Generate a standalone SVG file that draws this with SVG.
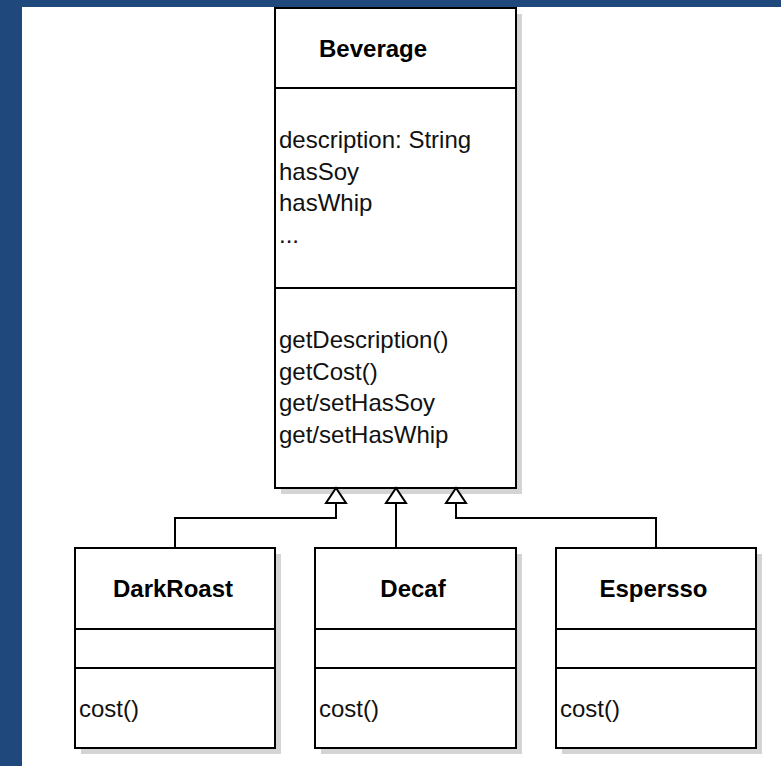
<svg xmlns="http://www.w3.org/2000/svg" width="781" height="766" viewBox="0 0 781 766">
<style>
.box{fill:#fff;stroke:#000;stroke-width:2}
.sh{fill:#d4d4d4}
.div{stroke:#000;stroke-width:2;fill:none}
.t{font-family:"Liberation Sans",Arial,sans-serif;font-size:24px;fill:#111}
.b{font-family:"Liberation Sans",Arial,sans-serif;font-size:24px;font-weight:bold;fill:#000}
.edge{fill:none;stroke:#000;stroke-width:2}
.tri{fill:#fff;stroke:#000;stroke-width:2;stroke-linejoin:miter}
</style>
<rect x="0" y="0" width="781" height="766" fill="#fff"/>
<rect x="0" y="0" width="781" height="7" fill="#1F497D"/>
<rect x="0" y="0" width="22" height="766" fill="#1F497D"/>

<g id="Beverage">
<rect class="sh" x="281" y="14" width="241" height="480"/>
<rect class="box" x="275" y="8" width="241" height="480"/>
<line class="div" x1="275" y1="88" x2="516" y2="88"/>
<line class="div" x1="275" y1="288" x2="516" y2="288"/>
<text class="b" x="319" y="57">Beverage</text>
<text class="t" x="279" y="148">description: String</text>
<text class="t" x="279" y="179.5">hasSoy</text>
<text class="t" x="279" y="211">hasWhip</text>
<text class="t" x="279" y="242.5">...</text>
<text class="t" x="279" y="348">getDescription()</text>
<text class="t" x="279" y="379.5">getCost()</text>
<text class="t" x="279" y="411">get/setHasSoy</text>
<text class="t" x="279" y="442.5">get/setHasWhip</text>
</g>

<g id="DarkRoast">
<rect class="sh" x="81" y="554" width="200" height="200"/>
<rect class="box" x="75" y="548" width="200" height="200"/>
<line class="div" x1="75" y1="629" x2="275" y2="629"/>
<line class="div" x1="75" y1="668" x2="275" y2="668"/>
<text class="b" x="173" y="597" text-anchor="middle">DarkRoast</text>
<text class="t" x="79" y="717">cost()</text>
</g>

<g id="Decaf">
<rect class="sh" x="321" y="554" width="201" height="200"/>
<rect class="box" x="315" y="548" width="201" height="200"/>
<line class="div" x1="315" y1="629" x2="516" y2="629"/>
<line class="div" x1="315" y1="668" x2="516" y2="668"/>
<text class="b" x="413" y="597" text-anchor="middle">Decaf</text>
<text class="t" x="319" y="717">cost()</text>
</g>

<g id="Espersso">
<rect class="sh" x="562" y="554" width="200" height="200"/>
<rect class="box" x="556" y="548" width="200" height="200"/>
<line class="div" x1="556" y1="629" x2="756" y2="629"/>
<line class="div" x1="556" y1="668" x2="756" y2="668"/>
<text class="b" x="653.5" y="597" text-anchor="middle">Espersso</text>
<text class="t" x="560" y="717">cost()</text>
</g>

<g id="connectors">
<path class="edge" d="M175 548 V518 H336 V503"/>
<path class="edge" d="M396 548 V503"/>
<path class="edge" d="M656 548 V518 H456 V503"/>
<polygon class="tri" points="336,488 326,503 346,503"/>
<polygon class="tri" points="396,488 386,503 406,503"/>
<polygon class="tri" points="456,488 446,503 466,503"/>
</g>
</svg>
